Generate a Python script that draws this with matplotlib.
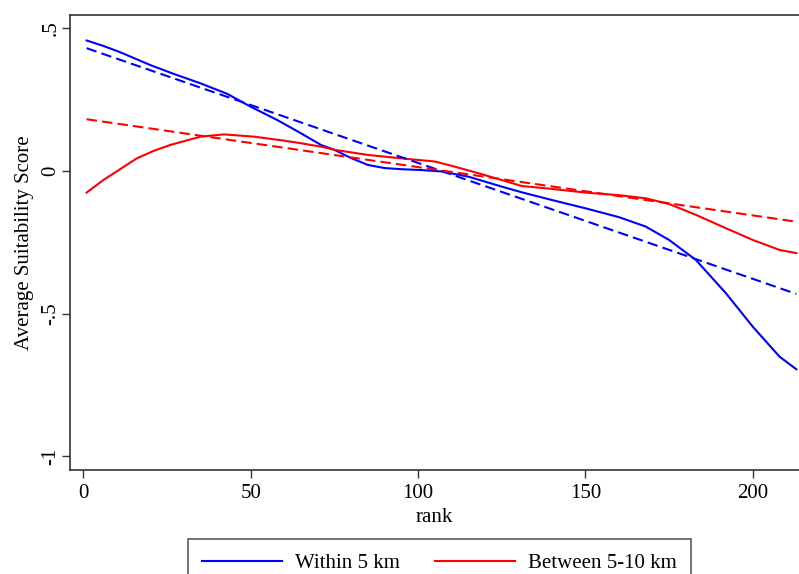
import numpy as np
import matplotlib
matplotlib.use('Agg')
import matplotlib.pyplot as plt

plt.rcParams['font.family'] = ['Liberation Serif', 'DejaVu Serif']

# --- data ---
rank_within = [1, 6, 11, 20, 27, 35, 43, 50, 58, 65, 71, 75, 80, 85, 90, 95,
               101, 107, 115, 125, 131, 140, 150, 160, 168, 175, 183, 192,
               200, 208, 213]
score_within = [0.457, 0.438, 0.416, 0.371, 0.340, 0.307, 0.270, 0.225,
                0.178, 0.132, 0.091, 0.074, 0.045, 0.021, 0.010, 0.006,
                0.003, -0.002, -0.020, -0.055, -0.075, -0.102, -0.131,
                -0.162, -0.195, -0.242, -0.312, -0.429, -0.546, -0.651,
                -0.695]

rank_between = [1, 6, 11, 16, 21, 26, 35, 42, 51, 60, 65, 71, 75, 85, 95,
                105, 110, 118, 125, 131, 140, 150, 160, 168, 175, 183, 192,
                200, 208, 213]
score_between = [-0.076, -0.032, 0.006, 0.044, 0.070, 0.091, 0.120, 0.128,
                 0.120, 0.106, 0.097, 0.085, 0.074, 0.056, 0.044, 0.033,
                 0.018, -0.008, -0.032, -0.053, -0.063, -0.076, -0.085,
                 -0.096, -0.116, -0.154, -0.201, -0.242, -0.277, -0.288]

# linear fits (end points)
fit_rank = [1, 213]
fit_within = [0.430, -0.431]
fit_between = [0.181, -0.178]

fig = plt.figure(figsize=(7.99, 5.74), dpi=100)
ax = fig.add_axes([0.0876, 0.1812, 0.9124, 0.7935])

ax.plot(rank_within, score_within, color='blue', lw=1.5, label='Within 5 km')
ax.plot(rank_between, score_between, color='red', lw=1.5, label='Between 5-10 km')
ax.plot(fit_rank, fit_within, color='blue', lw=1.5, dashes=(5, 2.5))
ax.plot(fit_rank, fit_between, color='red', lw=1.5, dashes=(5, 2.5))

ax.set_xlim(-3.97, 213.8)
ax.set_ylim(-1.048, 0.548)
ax.set_xticks([0, 50, 100, 150, 200])
ax.set_yticks([0.5, 0, -0.5, -1])
ax.set_yticklabels(['.5', '0', '-.5', '-1'], rotation=90, va='center')
ax.tick_params(axis='both', labelsize=15, length=6, width=1, color='#333333')
ax.tick_params(axis='y', pad=1)
ax.tick_params(axis='x', pad=4)

for side in ['left', 'top', 'bottom']:
    ax.spines[side].set_color('#333333')
    ax.spines[side].set_linewidth(1.2)
ax.spines['right'].set_visible(False)

ax.set_xlabel('rank', fontsize=15, labelpad=4)
ax.set_ylabel('Average Suitability Score', fontsize=15, labelpad=5)

leg = fig.legend(loc='upper center', bbox_to_anchor=(0.55, 0.061), ncol=2,
                 fontsize=15, frameon=True, fancybox=False, edgecolor='#333333',
                 handlelength=3.85, handletextpad=0.6, columnspacing=1.7,
                 borderpad=0.7, borderaxespad=0)
leg.get_frame().set_linewidth(1.2)

fig.savefig('out.png', dpi=100)
